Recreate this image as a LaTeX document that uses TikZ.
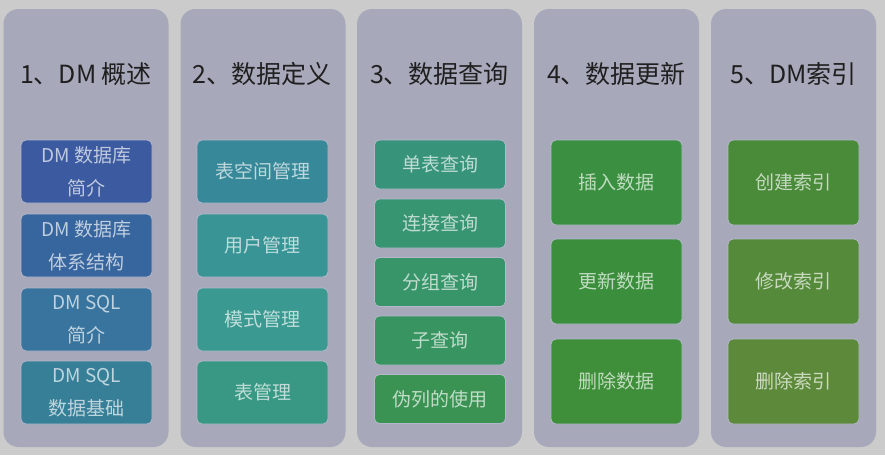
\documentclass[tikz,border=0pt]{standalone}
\usepackage{fontspec}
\setmainfont{Noto Sans CJK SC}
\definecolor{bggray}{HTML}{CBCBCB}
\definecolor{panelgray}{HTML}{A7A9BB}
\definecolor{itemline}{HTML}{B4B8CA}
% farben der kaesten
\definecolor{ca}{HTML}{3B5AA0}
\definecolor{cb}{HTML}{37659E}
\definecolor{cc}{HTML}{38749E}
\definecolor{cd}{HTML}{377F97}
\definecolor{ce}{HTML}{378898}
\definecolor{cf}{HTML}{389495}
\definecolor{cg}{HTML}{3A9A91}
\definecolor{ch}{HTML}{389884}
\definecolor{ci}{HTML}{37947A}
\definecolor{cj}{HTML}{389572}
\definecolor{ck}{HTML}{38956A}
\definecolor{cl}{HTML}{389460}
\definecolor{cm}{HTML}{3A9352}
\definecolor{cn}{HTML}{3A9040}
\definecolor{co}{HTML}{3B8F3C}
\definecolor{cp}{HTML}{3E8E3A}
\definecolor{cq}{HTML}{4A8B3A}
\definecolor{cr}{HTML}{548A3A}
\definecolor{cs}{HTML}{5D8A3A}
\begin{document}
\begin{tikzpicture}[x=1pt,y=-1pt,
    panel/.style={fill=panelgray, rounded corners=15pt, minimum width=165pt, minimum height=438pt, inner sep=0pt},
    titel/.style={font=\fontsize{25}{30}\selectfont, text=black!88},
    item/.style={draw=itemline, line width=0.8pt, rounded corners=5pt, minimum width=131pt, inner sep=0pt,
        text=white, text opacity=0.68, font=\fontsize{19}{33}\selectfont, align=center},
    itemA/.style={item, minimum height=63pt},
    itemB/.style={item, minimum height=49pt},
    itemC/.style={item, minimum height=85pt}]
    % hintergrund
    \fill[bggray] (0,0) rectangle (885,455);
    \useasboundingbox (0,0) rectangle (885,455);

    % spalten
    \node[panel] (p1) at (86,228) {};
    \node[panel] (p2) at (263,228) {};
    \node[panel] (p3) at (439.5,228) {};
    \node[panel] (p4) at (616.5,228) {};
    \node[panel] (p5) at (793.5,228) {};

    % titel
    \node[titel] (t1) at (86,74) {1、DM 概述};
    \node[titel] (t2) at (262,74) {2、数据定义};
    \node[titel] (t3) at (439.5,74) {3、数据查询};
    \node[titel] (t4) at (616.5,74) {4、数据更新};
    \node[titel] (t5) at (793.5,74) {5、DM索引};

    % 1
    \node[itemA, fill=ca] (a1) at (86.5,171.5) {DM 数据库\\简介};
    \node[itemA, fill=cb] (a2) at (86.5,245.5) {DM 数据库\\体系结构};
    \node[itemA, fill=cc] (a3) at (86.5,319.5) {DM SQL\\简介};
    \node[itemA, fill=cd] (a4) at (86.5,392.5) {DM SQL\\数据基础};

    % 2
    \node[itemA, fill=ce] (b1) at (262.5,171.5) {表空间管理};
    \node[itemA, fill=cf] (b2) at (262.5,245.5) {用户管理};
    \node[itemA, fill=cg] (b3) at (262.5,319.5) {模式管理};
    \node[itemA, fill=ch] (b4) at (262.5,392.5) {表管理};

    % 3
    \node[itemB, fill=ci] (c1) at (440,164.5) {单表查询};
    \node[itemB, fill=cj] (c2) at (440,223.5) {连接查询};
    \node[itemB, fill=ck] (c3) at (440,282) {分组查询};
    \node[itemB, fill=cl] (c4) at (440,340.5) {子查询};
    \node[itemB, fill=cm] (c5) at (440,399) {伪列的使用};

    % 4
    \node[itemC, fill=cn] (d1) at (616.5,182.5) {插入数据};
    \node[itemC, fill=co] (d2) at (616.5,281.5) {更新数据};
    \node[itemC, fill=cp] (d3) at (616.5,381.5) {删除数据};

    % 5
    \node[itemC, fill=cq] (e1) at (793.5,182.5) {创建索引};
    \node[itemC, fill=cr] (e2) at (793.5,281.5) {修改索引};
    \node[itemC, fill=cs] (e3) at (793.5,381.5) {删除索引};
\end{tikzpicture}
\end{document}
